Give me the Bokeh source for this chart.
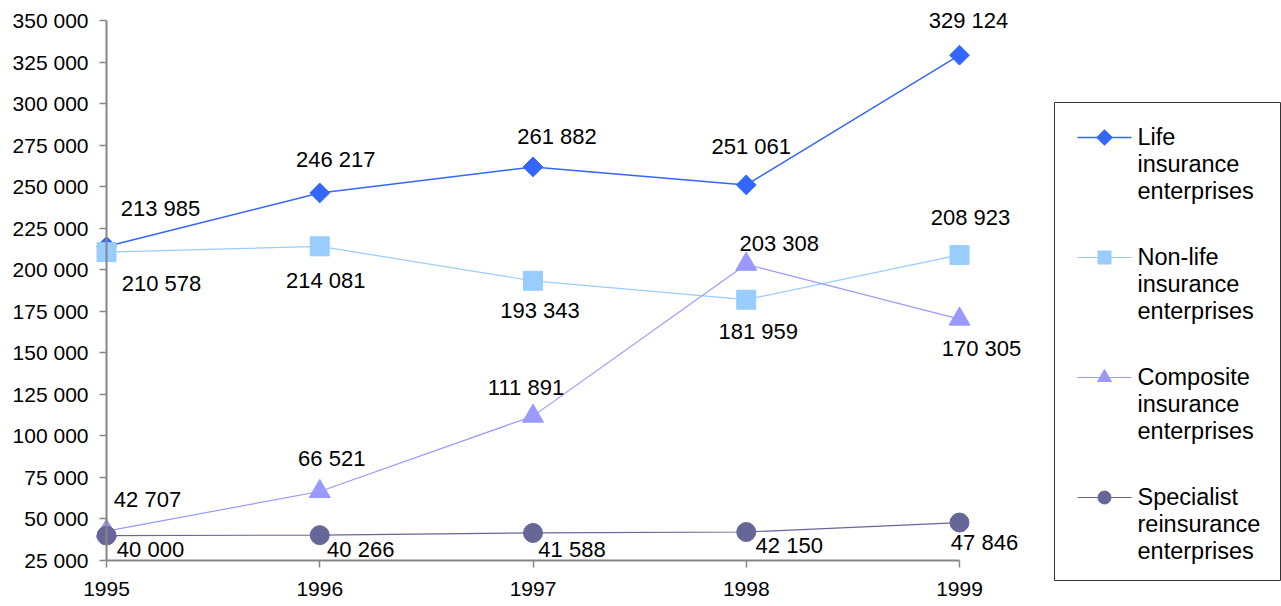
import math
from bokeh.plotting import figure
from bokeh.models import Range1d, FixedTicker, ColumnDataSource
from bokeh.embed import file_html
from bokeh.resources import INLINE
from bokeh.core.properties import value

# ---------------- data ----------------
years = [1995, 1996, 1997, 1998, 1999]
life = [213985, 246217, 261882, 251061, 329124]
nonlife = [210578, 214081, 193343, 181959, 208923]
composite = [42707, 66521, 111891, 203308, 170305]
specialist = [40000, 40266, 41588, 42150, 47846]
series_labels = [
    ["Life", "insurance", "enterprises"],
    ["Non-life", "insurance", "enterprises"],
    ["Composite", "insurance", "enterprises"],
    ["Specialist", "reinsurance", "enterprises"],
]
y_ticks = [25000, 50000, 75000, 100000, 125000, 150000, 175000, 200000,
           225000, 250000, 275000, 300000, 325000, 350000]
x_ticks = [1995, 1996, 1997, 1998, 1999]

# ---------------- styles ----------------
colors = ["#3366FF", "#99CCFF", "#9999FF", "#666699"]
line_widths = [1.5, 1.2, 1.2, 1.2]
markers = ["square", "square", "triangle", "circle"]
marker_sizes = [14, 19, 21, 19]
marker_angles = [math.pi / 4, 0, 0, 0]
legend_marker_sizes = [11, 13, 14, 13]
# data-label pixel offsets (dx, dy) per series / point
label_dx = [
    [54, 16, 24, 5, 9],
    [55, 6, 7, 12, 11],
    [41, 12, -7, 33, 22],
    [44, 41, 39, 43, 25],
]
label_dy = [
    [-38, -33, -30, -38, -35],
    [31, 34, 30, 32, -37],
    [-32, -33, -29, -21, 29],
    [14, 14, 17, 13, 20],
]

FONT = "Liberation Sans"
W, H = 1281, 606
# pixel layout of the axes
PX_X0, PX_X1 = 106, 959      # x of first / last year
PX_YB, PX_YT = 560, 20       # y of lowest / highest tick

xs = (x_ticks[-1] - x_ticks[0]) / (PX_X1 - PX_X0)
ys = (y_ticks[-1] - y_ticks[0]) / (PX_YB - PX_YT)
x_start = x_ticks[0] - PX_X0 * xs
x_end = x_start + W * xs
y_top = y_ticks[-1] + PX_YT * ys
y_bottom = y_top - H * ys


def px2x(px):
    return x_start + px * xs


def px2y(py):
    return y_top - py * ys


def fmt(v):
    return f"{v:,}".replace(",", " ")


p = figure(width=W, height=H, output_backend="svg", toolbar_location=None,
           x_range=Range1d(x_start, x_end), y_range=Range1d(y_bottom, y_top),
           min_border=0, min_border_left=0, min_border_right=0,
           min_border_top=0, min_border_bottom=0)
p.outline_line_color = None
p.grid.visible = False
p.background_fill_color = "white"
p.border_fill_color = "white"

# axes
p.xaxis.fixed_location = y_ticks[0]
p.yaxis.fixed_location = x_ticks[0]
p.xaxis.bounds = (x_ticks[0], x_ticks[-1])
p.yaxis.bounds = (y_ticks[0], y_ticks[-1])
p.xaxis.ticker = FixedTicker(ticks=x_ticks)
p.yaxis.ticker = FixedTicker(ticks=y_ticks)
p.yaxis.major_label_overrides = {t: fmt(t) for t in y_ticks}
p.xaxis.major_label_overrides = {t: str(t) for t in x_ticks}
for ax in (p.xaxis, p.yaxis):
    ax.axis_line_color = "#868686"
    ax.axis_line_width = 2
    ax.major_tick_line_color = "#868686"
    ax.major_tick_line_width = 1.5
    ax.major_tick_in = 0
    ax.major_tick_out = 7
    ax.minor_tick_line_color = None
    ax.major_label_text_font = FONT
    ax.major_label_text_font_size = "21px"
    ax.major_label_text_color = "black"
p.xaxis.major_label_standoff = 14
p.yaxis.major_label_standoff = 11

all_series = [life, nonlife, composite, specialist]

for i, vals in enumerate(all_series):
    src = ColumnDataSource(dict(
        x=years, y=vals, label=[fmt(v) for v in vals],
        dx=label_dx[i], dy=label_dy[i]))
    p.line("x", "y", source=src, line_color=colors[i], line_width=line_widths[i])
    p.scatter("x", "y", source=src, marker=markers[i], size=marker_sizes[i],
              angle=marker_angles[i], fill_color=colors[i], line_color=colors[i])

for i, vals in enumerate(all_series):
    src = ColumnDataSource(dict(
        x=years, y=vals, label=[fmt(v) for v in vals],
        dx=label_dx[i], dy=label_dy[i]))
    p.text("x", "y", text="label", source=src, x_offset="dx", y_offset="dy",
           text_align="center", text_baseline="middle",
           text_font=value(FONT), text_font_size="22px", text_color="black")

# ---------------- legend (drawn manually) ----------------
p.quad(left=[px2x(1054)], right=[px2x(1280)], top=[px2y(102)], bottom=[px2y(580)],
       fill_color="white", line_color="#333333", line_width=1)
for i in range(4):
    cy = 137 + 120 * i
    p.line([px2x(1077), px2x(1131)], [px2y(cy), px2y(cy)],
           line_color=colors[i], line_width=line_widths[i])
    p.scatter([px2x(1104)], [px2y(cy)], marker=markers[i],
              size=legend_marker_sizes[i], angle=marker_angles[i],
              fill_color=colors[i], line_color=colors[i])
    lines = series_labels[i]
    p.text([px2x(1137)] * len(lines), [px2y(cy - 1 + 27 * k) for k in range(len(lines))],
           text=lines, text_align="left", text_baseline="middle",
           text_font=value(FONT), text_font_size="23.5px", text_color="black")

open("out.html", "w").write(file_html(p, INLINE))
